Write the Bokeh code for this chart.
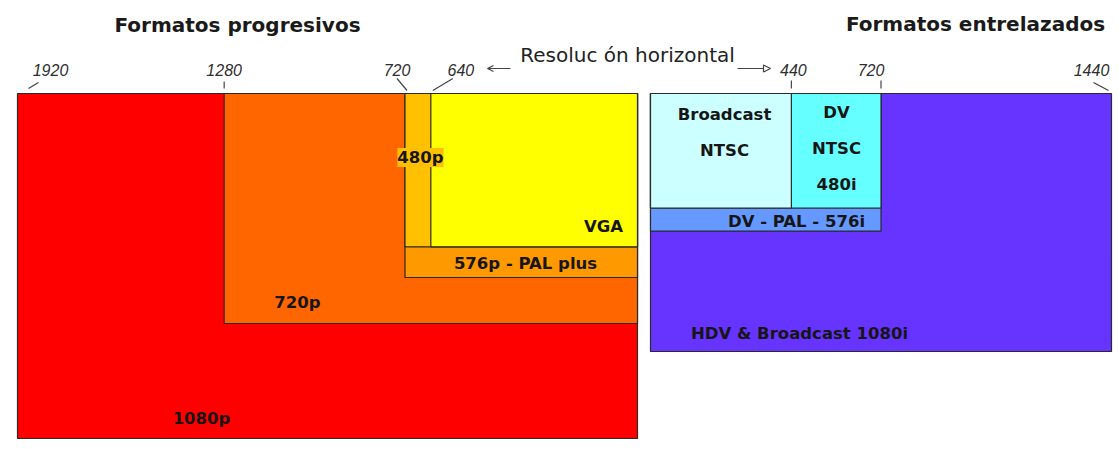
from bokeh.plotting import figure
from bokeh.models import Range1d, Label, Arrow, OpenHead, NormalHead, ColumnDataSource
from bokeh.core.properties import value
from bokeh.embed import file_html
from bokeh.resources import INLINE

# ---------------- data ----------------
prog_title = "Formatos progresivos"
int_title = "Formatos entrelazados"
axis_title = "Resoluc ón horizontal"

prog_names = ["1080p", "720p", "576p - PAL plus", "480p", "VGA"]
prog_w = [1920, 1280, 720, 720, 640]
prog_h = [1080, 720, 576, 480, 480]
prog_colors = ["#FF0000", "#FF6600", "#FF9900", "#FFC000", "#FFFF00"]

int_names = ["HDV & Broadcast 1080i", "DV - PAL - 576i", "DV\nNTSC\n480i", "Broadcast\nNTSC"]
int_w = [1440, 720, 720, 440]
int_h = [1080, 576, 480, 480]
int_colors = ["#6633FF", "#6699FF", "#66FFFF", "#CCFFFF"]

prog_ticks = [1920, 1280, 720, 640]
int_ticks = [440, 720, 1440]

# ---------------- layout (page pixels) ----------------
W, H = 1116, 446
L_X1920, L_X0, TOP, L_BOT = 17, 637, 93, 438
R_X0, R_X1440, R_BOT = 650, 1111, 351

kxL = (L_X0 - L_X1920) / 1920.0
kyL = (L_BOT - TOP) / 1080.0
kxR = (R_X1440 - R_X0) / 1440.0
kyR = (R_BOT - TOP) / 1080.0

def lx(px):
    return 1920 - (px - L_X1920) / kxL

def ly(py):
    return (py - TOP) / kyL

def rx(px):
    return (px - R_X0) / kxR

def ry(py):
    return (py - TOP) / kyR

p = figure(width=W, height=H, output_backend="svg", toolbar_location=None,
           x_range=Range1d(lx(0), lx(W)), y_range=Range1d(ly(H), ly(0)),
           x_axis_location=None, y_axis_location=None, min_border=0,
           outline_line_color=None, background_fill_color="white",
           border_fill_color="white")
p.extra_x_ranges = {"r": Range1d(rx(0), rx(W))}
p.extra_y_ranges = {"r": Range1d(ry(H), ry(0))}
p.xgrid.visible = False
p.ygrid.visible = False
p.title.visible = False

EDGE = "#2a2a2a"
TXT = "#161616"
BOLD = dict(text_font=value("DejaVu Sans"), text_font_style="bold", text_font_size="16.5px",
            text_color=TXT, text_align="center", text_baseline="middle")

# ---------------- progressive rectangles ----------------
srcL = ColumnDataSource(dict(r=[0] * len(prog_w), w=prog_w, t=[0] * len(prog_h), h=prog_h, c=prog_colors))
p.quad(left="r", right="w", top="t", bottom="h", fill_color="c", line_color=EDGE, line_width=1.2, source=srcL)

# ---------------- interlaced rectangles ----------------
srcR = ColumnDataSource(dict(l=[0] * len(int_w), w=int_w, t=[0] * len(int_h), h=int_h, c=int_colors))
p.quad(left="l", right="w", top="t", bottom="h", fill_color="c", line_color=EDGE, line_width=1.2,
       source=srcR, x_range_name="r", y_range_name="r")

# ---------------- format labels ----------------
prog_lab_px = [(201, 418), (297, 302), (525, 263), (420, 157), (603, 226)]
for name, (px, py) in zip(prog_names, prog_lab_px):
    extra = {}
    if name == "480p":
        extra = dict(background_fill_color="#FFC000", background_fill_alpha=1.0)
    p.text(x=[lx(px)], y=[ly(py)], text=[name], **BOLD, **extra)

int_lab_px = [(799, 333), (796, 221), (836, 148), (724, 132)]
for name, (px, py) in zip(int_names, int_lab_px):
    p.text(x=[rx(px)], y=[ry(py)], text=[name], text_line_height=1.9,
           x_range_name="r", y_range_name="r", **BOLD)

# ---------------- tick labels and leaders ----------------
TICKF = dict(text_font=value("Liberation Sans"), text_font_style="italic", text_font_size="16px",
             text_color="#2e2e2e", text_align="center", text_baseline="middle")
# label dx (px), leader bottom dx, leader top dx, leader bottom y, leader top y
prog_tick_style = [(33, 11, 21, 88, 82), (0, 0, 0, 88, 81), (-8, 2, -8, 90, 78), (30, 2, 22, 90, 78)]
for t, (dl, db, dt, yb, yt) in zip(prog_ticks, prog_tick_style):
    tp = L_X0 - t * kxL
    p.text(x=[lx(tp + dl)], y=[ly(69)], text=[str(t)], **TICKF)
    p.segment(x0=[lx(tp + db)], y0=[ly(yb)], x1=[lx(tp + dt)], y1=[ly(yt)], line_color="#444444", line_width=1.2)

int_tick_style = [(2, 0, 0, 88, 80), (-10, 0, 0, 88, 80), (-20, -3, -18, 90, 82)]
for t, (dl, db, dt, yb, yt) in zip(int_ticks, int_tick_style):
    tp = R_X0 + t * kxR
    p.text(x=[rx(tp + dl)], y=[ry(69)], text=[str(t)], x_range_name="r", y_range_name="r", **TICKF)
    p.segment(x0=[rx(tp + db)], y0=[ry(yb)], x1=[rx(tp + dt)], y1=[ry(yt)], line_color="#444444",
              line_width=1.2, x_range_name="r", y_range_name="r")

# ---------------- headers ----------------
p.add_layout(Label(x=lx(237), y=ly(24), text=prog_title, text_font="DejaVu Sans",
                   text_font_style="bold", text_font_size="20px", text_color="#1a1a1a",
                   text_align="center", text_baseline="middle"))
p.add_layout(Label(x=rx(975), y=ry(23), text=int_title, text_font="DejaVu Sans",
                   text_font_style="bold", text_font_size="20px", text_color="#1a1a1a",
                   text_align="center", text_baseline="middle", x_range_name="r", y_range_name="r"))
p.add_layout(Label(x=lx(627), y=ly(54), text=axis_title, text_font="DejaVu Sans",
                   text_font_size="20px", text_color="#222222",
                   text_align="center", text_baseline="middle"))

p.add_layout(Arrow(end=OpenHead(size=6, line_color="#444444", line_width=1.2),
                   x_start=lx(510), y_start=ly(68), x_end=lx(487), y_end=ly(68),
                   line_color="#444444", line_width=1.2))
p.add_layout(Arrow(end=NormalHead(size=7, fill_color="white", line_color="#444444", line_width=1.2),
                   x_start=rx(737), y_start=ry(68), x_end=rx(770), y_end=ry(68),
                   line_color="#444444", line_width=1.2, x_range_name="r", y_range_name="r"))

open("out.html", "w").write(file_html(p, INLINE))
